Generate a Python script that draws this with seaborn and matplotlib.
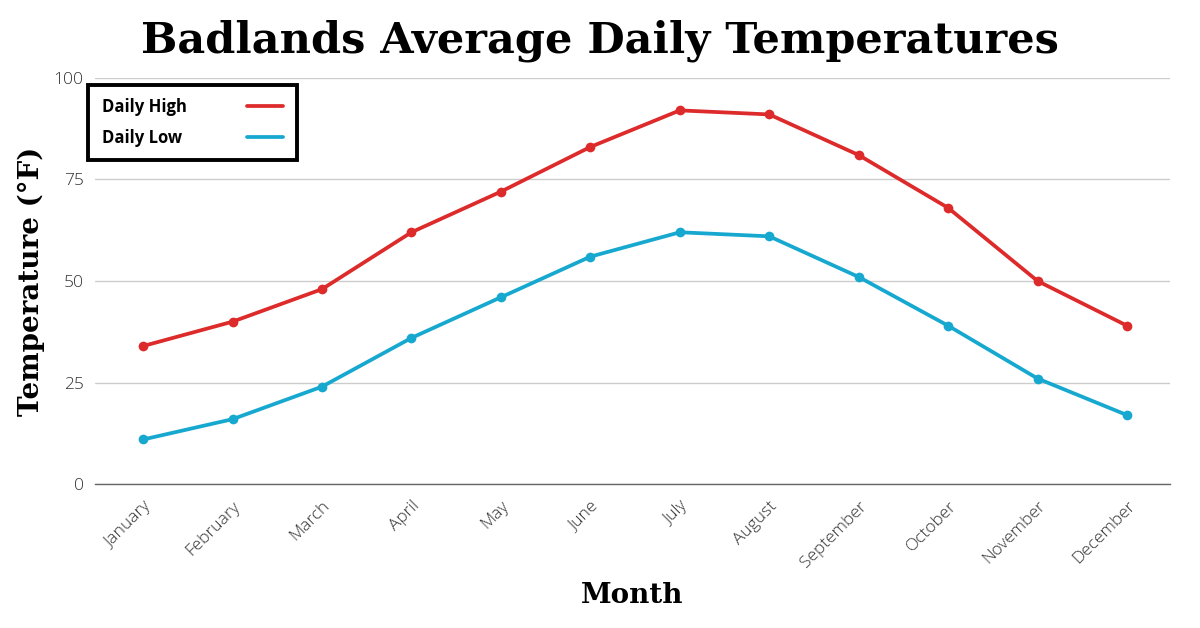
import pandas as pd
import numpy as np
import seaborn as sns
from matplotlib import pyplot as plt

months = ['January', 'February', 'March', 'April', 'May', 'June', 'July',
          'August', 'September', 'October', 'November', 'December']
daily_high = [34, 40, 48, 62, 72, 83, 92, 91, 81, 68, 50, 39]
daily_low = [11, 16, 24, 36, 46, 56, 62, 61, 51, 39, 26, 17]
y_ticks = [0, 25, 50, 75, 100]

sns.set_theme(style='white')
plt.rcParams['font.family'] = ['Open Sans', 'DejaVu Sans']
plt.rcParams['text.color'] = 'black'
plt.rcParams['axes.labelcolor'] = 'black'

df = pd.DataFrame({
    'month_idx': list(range(len(months))) * 2,
    'temp': daily_high + daily_low,
    'series': ['Daily High'] * len(months) + ['Daily Low'] * len(months),
})
palette = {'Daily High': '#dd2a2a', 'Daily Low': '#17a8d0'}

fig = plt.figure(figsize=(12, 6.28), dpi=100)
ax = fig.add_axes([0.079, 0.229, 0.896, 0.647])

sns.lineplot(data=df, x='month_idx', y='temp', hue='series', palette=palette,
             linewidth=2.7, marker='o', markersize=7, markeredgewidth=0, ax=ax)

ax.set_xlim(-0.54, 11.48)
ax.set_ylim(0, 100)
ax.set_yticks(y_ticks)
ax.set_xticks(range(len(months)))
ax.set_xticklabels(months, rotation=45, ha='right', rotation_mode='anchor')
ax.tick_params(axis='both', labelsize=12.5, labelcolor='#333333', length=0)
ax.tick_params(axis='x', pad=10)
ax.tick_params(axis='y', pad=8)
for lbl in ax.get_xticklabels() + ax.get_yticklabels():
    lbl.set_fontweight('light')

ax.yaxis.grid(True, color='#cccccc', linewidth=1)
ax.xaxis.grid(False)
for side in ['top', 'right', 'left']:
    ax.spines[side].set_visible(False)
ax.spines['bottom'].set_color('#666666')
ax.spines['bottom'].set_linewidth(1)
ax.set_axisbelow(True)

ax.set_xlabel('Month', fontsize=20, fontweight='bold', family='DejaVu Serif',
              labelpad=8)
ax.set_ylabel('Temperature (°F)', fontsize=20, fontweight='bold',
              family='DejaVu Serif', labelpad=6)
fig.text(0.5, 0.935, 'Badlands Average Daily Temperatures', ha='center',
         va='center', fontsize=31, fontweight='heavy', family='DejaVu Serif')

handles, labels = ax.get_legend_handles_labels()
for h in handles:
    h.set_marker('')
leg = ax.legend(handles, labels, loc='upper left', bbox_to_anchor=(-0.006, 0.983),
                markerfirst=False, frameon=True, fancybox=False, framealpha=1,
                prop={'weight': 'bold', 'size': 12}, handlelength=2.2,
                handletextpad=3.6, borderpad=0.8, labelspacing=0.75,
                borderaxespad=0)
leg.get_frame().set_edgecolor('black')
leg.get_frame().set_linewidth(2.8)

# left-align the legend labels while keeping the line handles in one column
for col in leg._legend_handle_box.get_children():
    col.align = 'left'
fig.canvas.draw()
renderer = fig.canvas.get_renderer()
widths = [t.get_window_extent(renderer).width for t in leg.get_texts()]
for col in leg._legend_handle_box.get_children():
    for item, w in zip(col.get_children(), widths):
        item.sep = item.sep + (max(widths) - w) * 72 / fig.dpi

fig.savefig('out.png', dpi=100)
